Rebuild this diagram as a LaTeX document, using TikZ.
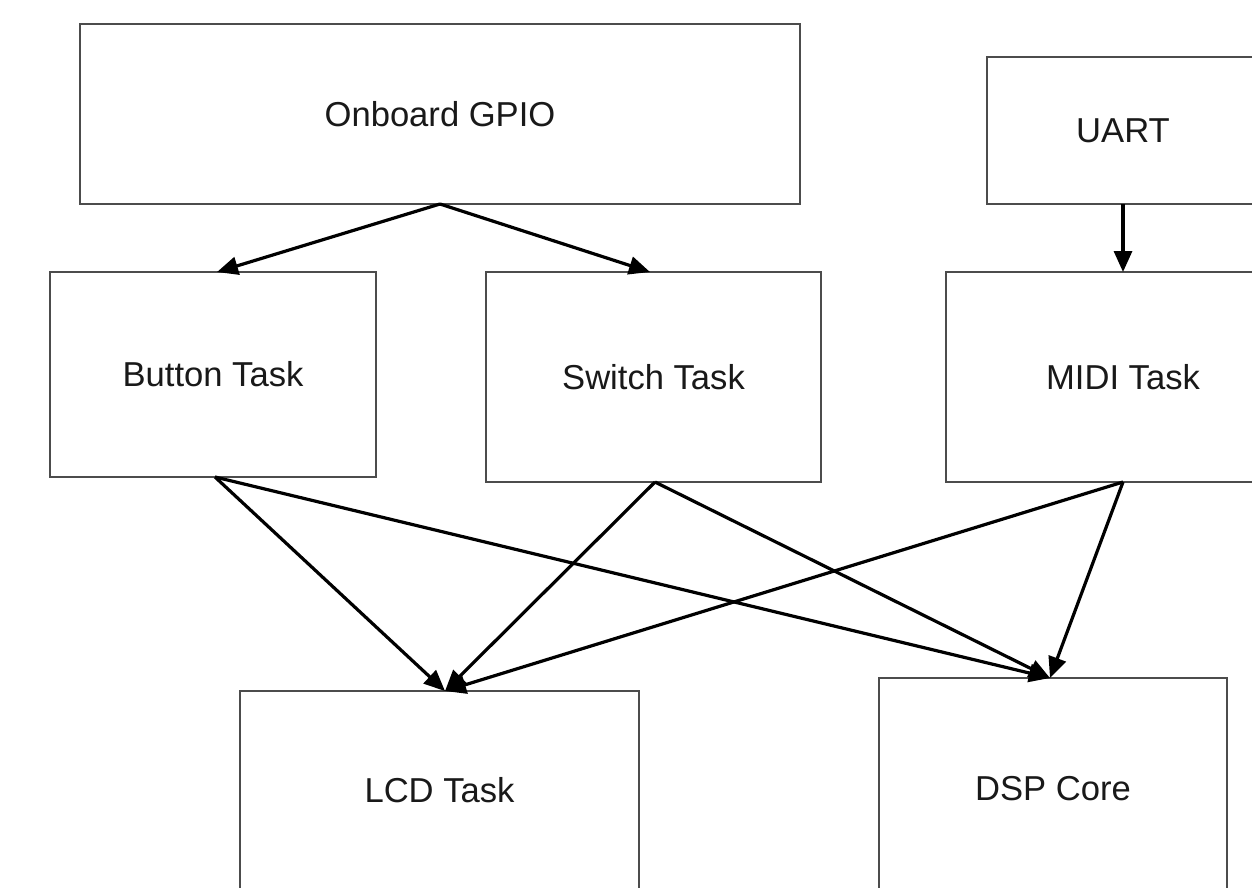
\documentclass[tikz,border=0pt]{standalone}
\usepackage{fontspec}
\setmainfont{Liberation Sans}
\usetikzlibrary{arrows.meta}
\tikzset{
  box/.style={draw=black!70, line width=2pt, fill=white, inner sep=0pt, outer sep=0pt,
    font=\fontsize{34.6}{40}\selectfont, text=black!90},
  link/.style={draw=black, line width=3.2pt, -{Triangle[length=21pt,width=18pt]}, shorten >=0pt}
}
\begin{document}
\begin{tikzpicture}[x=1pt,y=-1pt]
\useasboundingbox (0,0) rectangle (1252,887);
\fill[white] (0,0) rectangle (1252,887);
\clip (0,0) rectangle (1252,887);
% boxes
\node[box, minimum width=720pt, minimum height=180pt] (gpio) at (440,114) {Onboard GPIO};
\node[box, minimum width=272pt, minimum height=147pt] (uart) at (1123,130.5) {UART};
\node[box, minimum width=326pt, minimum height=205pt] (button) at (213,374.5) {Button Task};
\node[box, minimum width=335pt, minimum height=210pt] (switch) at (653.5,377) {Switch Task};
\node[box, minimum width=354pt, minimum height=210pt] (midi) at (1123,377) {MIDI Task};
\node[box, minimum width=399pt, minimum height=199pt] (lcd) at (439.5,790.5) {LCD Task};
\node[box, minimum width=348pt, minimum height=222pt] (dsp) at (1053,789) {DSP Core};
% anchor points
\coordinate (btop) at (217,272);
\coordinate (stop) at (650,272);
\coordinate (bbot) at (215,477);
\coordinate (sbot) at (655,482);
\coordinate (mbot) at (1123,482);
\coordinate (ltop) at (445,691);
\coordinate (dtop) at (1050,678);
% connectors
\draw[link] (gpio.south) -- (btop);
\draw[link] (gpio.south) -- (stop);
\draw[link] (uart.south) -- (midi.north);
\draw[link] (bbot) -- (ltop);
\draw[link] (bbot) -- (dtop);
\draw[link] (sbot) -- (ltop);
\draw[link] (sbot) -- (dtop);
\draw[link] (mbot) -- (ltop);
\draw[link] (mbot) -- (dtop);
\end{tikzpicture}
\end{document}
